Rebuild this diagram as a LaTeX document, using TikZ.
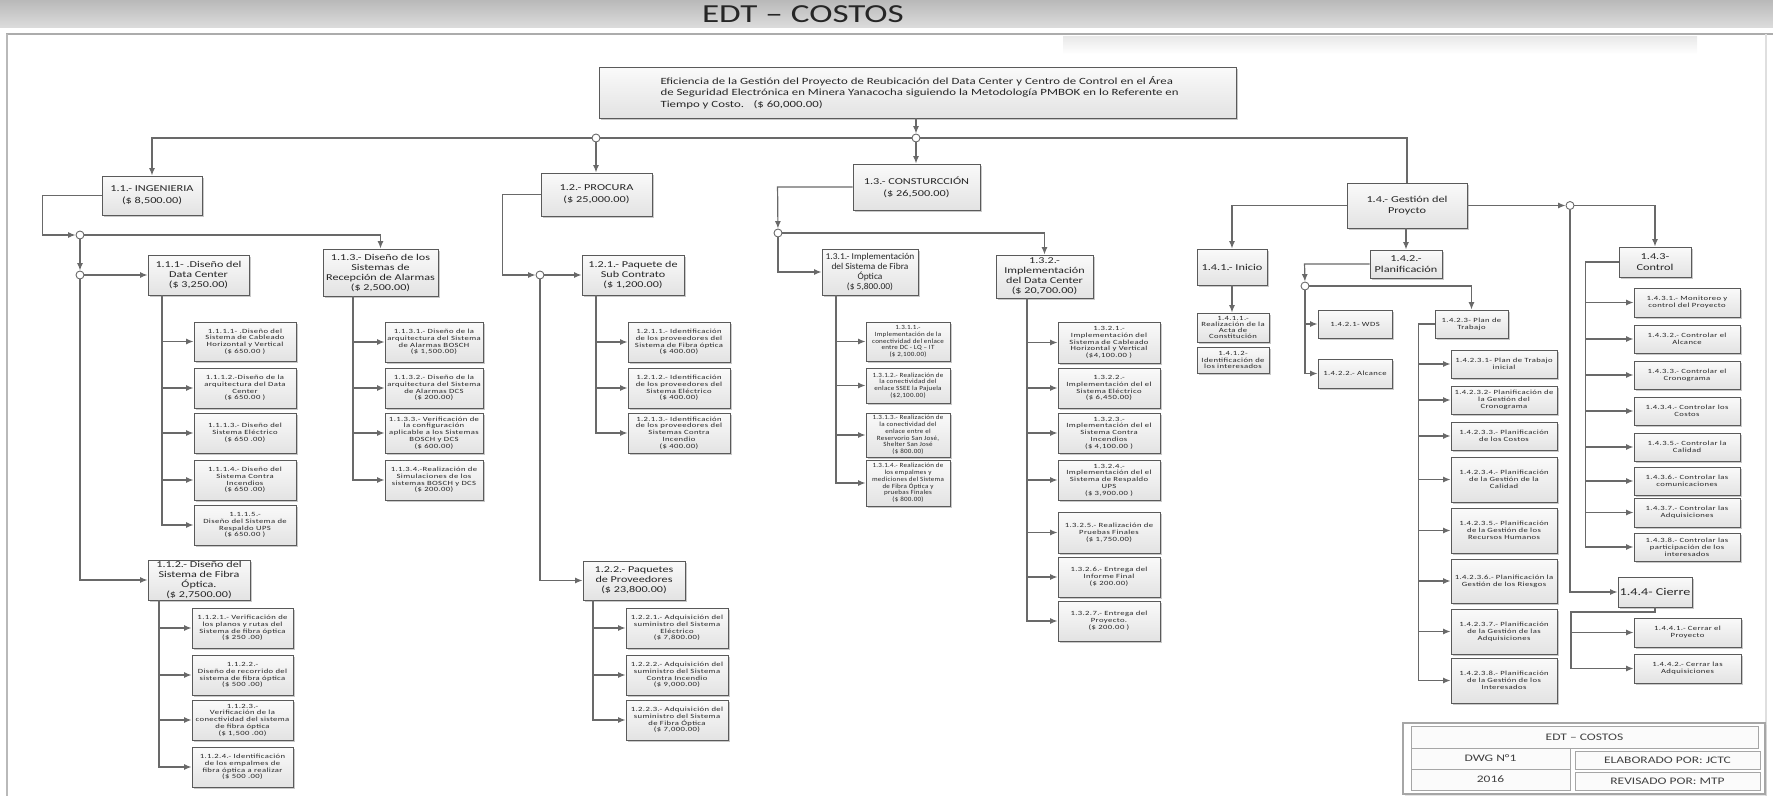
\documentclass[tikz,border=0pt]{standalone}
\usepackage{fontspec}
\setmainfont{Carlito}
\newfontfamily\fwide[FakeStretch=1.35]{Carlito}
\newfontfamily\fmid[FakeStretch=1.05]{Carlito}
\newfontfamily\fsmall[FakeStretch=1.35,LetterSpace=6]{Carlito}
\newfontfamily\fsmalln[FakeStretch=1.1,LetterSpace=4]{Carlito}
\usetikzlibrary{arrows.meta,shadows}

\definecolor{edge}{RGB}{90,90,90}
\definecolor{wirec}{RGB}{105,105,105}

\tikzset{
  box/.style={draw=edge, line width=0.9pt, top color=gray!4, bottom color=gray!22,
    inner sep=1pt, align=center, text=black!85,
    drop shadow={shadow xshift=1.6pt, shadow yshift=-1.6pt, fill=gray!60, opacity=0.7}},
  tRoot/.style={font=\fwide\fontsize{9.5}{11.3}\selectfont},
  tTwo/.style={font=\fwide\fontsize{9.1}{11.7}\selectfont},
  tThree/.style={font=\fwide\fontsize{9}{10}\selectfont},
  tThreeN/.style={font=\fmid\fontsize{9}{10}\selectfont},
  tBig/.style={font=\fwide\fontsize{10.5}{12}\selectfont},
  tSmall/.style={font=\fsmall\fontsize{6.4}{6.8}\selectfont},
  tSmallN/.style={font=\fsmalln\fontsize{6.4}{6.8}\selectfont},
  tTight/.style={font=\fsmall\fontsize{6.4}{6.2}\selectfont},
  wire/.style={draw=wirec, line width=1.2pt},
  arr/.style={wire, -{Latex[length=7.5pt,width=6pt]}},
  junction/.style={circle, draw=wirec, fill=white, line width=0.9pt, minimum size=8pt, inner sep=0pt},
  cell/.style={draw=gray!70, line width=0.7pt, fill=gray!3, text=black!75, inner sep=0pt,
    font=\fwide\fontsize{10}{12}\selectfont},
}

% box given by its corners: name, x1, y1, x2, y2, style, text
\newcommand\wbsbox[7]{%
  \pgfmathsetmacro\wbcx{(#2+#4)/2}%
  \pgfmathsetmacro\wbcy{(#3+#5)/2}%
  \pgfmathsetmacro\wbw{#4-#2}%
  \pgfmathsetmacro\wbh{#5-#3}%
  \node[box,#6,minimum width=\wbw pt,minimum height=\wbh pt] (#1) at (\wbcx,\wbcy) {#7};}

\newcommand\wbscell[6]{%
  \pgfmathsetmacro\wbcx{(#2+#4)/2}%
  \pgfmathsetmacro\wbcy{(#3+#5)/2}%
  \pgfmathsetmacro\wbw{#4-#2}%
  \pgfmathsetmacro\wbh{#5-#3}%
  \node[cell,minimum width=\wbw pt,minimum height=\wbh pt] (#1) at (\wbcx,\wbcy) {#6};}

\begin{document}
\begin{tikzpicture}[x=1pt,y=-1pt]
\useasboundingbox (0,0) rectangle (1773,796);

% ---------- header band and frame ----------
\shade[top color=gray!55, bottom color=gray!28] (0,0) rectangle (1773,27);
\node[font=\fwide\fontsize{26}{30}\selectfont, text=black!85] (title) at (803,14) {EDT – COSTOS};
\shade[top color=gray!18, bottom color=white] (1063,36) rectangle (1697,54);
\draw[gray!65, line width=2pt] (6,34) -- (1773,34);
\draw[gray!55, line width=2pt] (7,34) -- (7,796);
\draw[gray!25, line width=1.2pt] (1766,34) -- (1766,796);

% ---------- root ----------
\wbsbox{root}{599}{67}{1236}{118}{}{}
\node[anchor=west, align=left, tRoot, text=black!85] (rootlabel) at (657,92.5)
  {Eficiencia de la Gestión del Proyecto de Reubicación del Data Center y Centro de Control en el Área\\
   de Seguridad Electrónica en Minera Yanacocha siguiendo la Metodología PMBOK en lo Referente en\\
   Tiempo y Costo.\quad(\$ 60,000.00)};

% ---------- junctions ----------
\node[junction] (c2) at (596,138) {};
\node[junction] (c3) at (916,138) {};
\node[junction] (cA) at (80,235) {};
\node[junction] (cB) at (80,275) {};
\node[junction] (cC) at (540,275) {};
\node[junction] (cD) at (778,233) {};
\node[junction] (cE) at (1570,205.5) {};
\node[junction] (cF) at (1305,286) {};

% ---------- level 2 ----------
\wbsbox{n11}{102}{176}{202}{215}{tTwo}{1.1.- INGENIERIA\\(\$ 8,500.00)}
\wbsbox{n12}{541}{173}{652}{216}{tTwo}{1.2.- PROCURA\\(\$ 25,000.00)}
\wbsbox{n13}{853}{164}{980}{210}{tTwo}{1.3.- CONSTURCCIÓN\\(\$ 26,500.00)}
\wbsbox{n14}{1347}{183}{1467}{228}{tTwo}{1.4.- Gestión del\\Proycto}

% ---------- level 3 ----------
\wbsbox{n111}{148}{255}{249}{295}{tThree}{1.1.1- .Diseño del\\Data Center\\(\$ 3,250.00)}
\wbsbox{n112}{148}{560}{250}{600}{tThree}{1.1.2.- Diseño del\\Sistema de Fibra\\Óptica.\\(\$ 2,7500.00)}
\wbsbox{n113}{323}{249}{438}{296}{tThree}{1.1.3.- Diseño de los\\Sistemas de\\Recepción de Alarmas\\(\$ 2,500.00)}
\wbsbox{n121}{582}{255}{684}{295}{tThree}{1.2.1.- Paquete de\\Sub Contrato\\(\$ 1,200.00)}
\wbsbox{n122}{583}{561}{685}{600}{tThree}{1.2.2.- Paquetes\\de Proveedores\\(\$ 23,800.00)}
\wbsbox{n131}{822}{249}{918}{295}{tThreeN}{1.3.1.- Implementación\\del Sistema de Fibra\\Óptica\\(\$ 5,800.00)}
\wbsbox{n132}{996}{255}{1093}{298}{tThree}{1.3.2.-\\Implementación\\del Data Center\\(\$ 20,700.00)}
\wbsbox{n141}{1197}{249}{1267}{285}{tTwo}{1.4.1.- Inicio}
\wbsbox{n142}{1370}{250}{1442}{278}{tTwo}{1.4.2.-\\Planificación}
\wbsbox{n143}{1619}{247}{1691}{277}{tTwo}{1.4.3-\\Control}
\wbsbox{n144}{1618}{577}{1692}{607}{tBig}{1.4.4- Cierre}

% ---------- 1.1.1 work packages ----------
\wbsbox{n1111}{194}{322}{296}{361}{tSmall}{1.1.1.1- .Diseño del\\Sistema de  Cableado\\Horizontal y Vertical\\(\$ 650.00 )}
\wbsbox{n1112}{194}{368}{296}{408}{tSmall}{1.1.1.2.-Diseño de la\\arquitectura del Data\\Center\\(\$ 650.00 )}
\wbsbox{n1113}{194}{413}{296}{453}{tSmall}{1.1.1.3.- Diseño del\\Sistema Eléctrico\\(\$ 650 .00)}
\wbsbox{n1114}{194}{460}{296}{500}{tSmall}{1.1.1.4.- Diseño del\\Sistema Contra\\Incendios\\(\$ 650 .00)}
\wbsbox{n1115}{194}{505}{296}{545}{tSmall}{1.1.1.5.-\\Diseño del Sistema de\\Respaldo UPS\\(\$ 650.00 )}

% ---------- 1.1.2 work packages ----------
\wbsbox{n1121}{192}{608}{293}{648}{tSmall}{1.1.2.1.- Verificación de\\los planos  y rutas del\\Sistema de fibra óptica\\(\$ 250 .00)}
\wbsbox{n1122}{192}{655}{293}{695}{tSmall}{1.1.2.2.-\\Diseño de  recorrido del\\sistema de fibra óptica\\(\$ 500 .00)}
\wbsbox{n1123}{192}{700}{293}{740}{tSmall}{1.1.2.3.-\\Verificación de la\\conectividad del sistema\\de fibra óptica\\(\$ 1,500 .00)}
\wbsbox{n1124}{192}{747}{293}{787}{tSmall}{1.1.2.4.- Identificación\\de los empalmes de\\fibra óptica a realizar\\(\$ 500 .00)}

% ---------- 1.1.3 work packages ----------
\wbsbox{n1131}{385}{322}{483}{362}{tSmall}{1.1.3.1.- Diseño de la\\arquitectura del Sistema\\de Alarmas BOSCH\\(\$ 1,500.00)}
\wbsbox{n1132}{385}{368}{483}{408}{tSmall}{1.1.3.2.- Diseño de la\\arquitectura del  Sistema\\de Alarmas DCS\\(\$ 200.00)}
\wbsbox{n1133}{385}{413}{483}{453}{tSmall}{1.1.3.3.- Verificación de\\la configuración\\aplicable a  los Sistemas\\BOSCH y DCS\\(\$ 600.00)}
\wbsbox{n1134}{385}{460}{483}{500}{tSmall}{1.1.3.4.-Realización de\\Simulaciones de  los\\sistemas  BOSCH y DCS\\(\$ 200.00)}

% ---------- 1.2.1 work packages ----------
\wbsbox{n1211}{628}{322}{730}{362}{tSmall}{1.2.1.1.- Identificación\\de los proveedores del\\Sistema de Fibra óptica\\(\$ 400.00)}
\wbsbox{n1212}{628}{368}{730}{408}{tSmall}{1.2.1.2.- Identificación\\de  los proveedores del\\Sistema Eléctrico\\(\$ 400.00)}
\wbsbox{n1213}{628}{413}{730}{453}{tSmall}{1.2.1.3.- Identificación\\de  los proveedores del\\Sistemas Contra\\Incendio\\(\$ 400.00)}

% ---------- 1.2.2 work packages ----------
\wbsbox{n1221}{626}{608}{728}{648}{tSmall}{1.2.2.1.- Adquisición del\\suministro del Sistema\\Eléctrico\\(\$ 7,800.00)}
\wbsbox{n1222}{626}{655}{728}{695}{tSmall}{1.2.2.2.- Adquisición del\\suministro del Sistema\\Contra Incendio\\(\$ 9,000.00)}
\wbsbox{n1223}{626}{700}{728}{740}{tSmall}{1.2.2.3.- Adquisición del\\suministro del Sistema\\de Fibra Óptica\\(\$ 7,000.00)}

% ---------- 1.3.1 work packages ----------
\wbsbox{n1311}{866}{322}{950}{361}{tSmallN}{1.3.1.1.-\\Implementación de la\\conectividad del enlace\\entre DC - LQ – IT\\(\$ 2,100.00)}
\wbsbox{n1312}{866}{368}{950}{403}{tSmallN}{1.3.1.2.- Realización de\\la  conectividad del\\enlace  SSEE la Pajuela\\(\$2,100.00)}
\wbsbox{n1313}{866}{413}{950}{457}{tSmallN}{1.3.1.3.- Realización de\\la conectividad del\\enlace entre el\\Reservorio San José,\\Shelter San José\\(\$ 800.00)}
\wbsbox{n1314}{866}{460}{950}{506}{tSmallN}{1.3.1.4.- Realización de\\los empalmes y\\mediciones del Sistema\\de Fibra Óptica  y\\pruebas Finales\\(\$ 800.00)}

% ---------- 1.3.2 work packages ----------
\wbsbox{n1321}{1058}{322}{1160}{363}{tSmall}{1.3.2.1.-\\Implementación del\\Sistema de Cableado\\Horizontal y Vertical\\(\$4,100.00 )}
\wbsbox{n1322}{1058}{368}{1160}{408}{tSmall}{1.3.2.2.-\\Implementación del el\\Sistema Eléctrico\\(\$ 6,450.00)}
\wbsbox{n1323}{1058}{413}{1160}{453}{tSmall}{1.3.2.3.-\\Implementación del el\\Sistema Contra\\Incendios\\(\$ 4,100.00 )}
\wbsbox{n1324}{1058}{460}{1160}{500}{tSmall}{1.3.2.4.-\\Implementación del el\\Sistema de Respaldo\\UPS\\(\$ 3,900.00 )}
\wbsbox{n1325}{1058}{512}{1160}{553}{tSmall}{1.3.2.5.- Realización de\\Pruebas Finales\\(\$ 1,750.00)}
\wbsbox{n1326}{1058}{557}{1160}{597}{tSmall}{1.3.2.6.- Entrega del\\Informe Final\\(\$ 200.00)}
\wbsbox{n1327}{1058}{601}{1160}{641}{tSmall}{1.3.2.7.- Entrega del\\Proyecto.\\(\$ 200.00 )}

% ---------- 1.4 packages ----------
\wbsbox{n1411}{1197}{313}{1269}{342}{tTight}{1.4.1.1.-\\Realización de la\\Acta de\\Constitución}
\wbsbox{n1412}{1197}{347}{1269}{373}{tSmall}{1.4.1.2-\\Identificación de\\los interesados}
\wbsbox{n1421}{1318}{310}{1392}{338}{tSmall}{1.4.2.1- WDS}
\wbsbox{n1422}{1318}{359}{1392}{388}{tSmall}{1.4.2.2.- Alcance}
\wbsbox{n1423}{1435}{310}{1508}{338}{tSmall}{1.4.2.3- Plan de\\Trabajo}

\wbsbox{n14231}{1451}{350}{1557}{378}{tSmall}{1.4.2.3.1- Plan de Trabajo\\inicial}
\wbsbox{n14232}{1451}{386}{1557}{414}{tSmall}{1.4.2.3.2- Planificación de\\la Gestión del\\Cronograma}
\wbsbox{n14233}{1451}{422}{1557}{450}{tSmall}{1.4.2.3.3.- Planificación\\de los Costos}
\wbsbox{n14234}{1451}{457}{1557}{502}{tSmall}{1.4.2.3.4.- Planificación\\de la Gestión de la\\Calidad}
\wbsbox{n14235}{1451}{508}{1557}{553}{tSmall}{1.4.2.3.5.- Planificación\\de la Gestión de los\\Recursos Humanos}
\wbsbox{n14236}{1451}{559}{1557}{603}{tSmall}{1.4.2.3.6.- Planificación la\\Gestión de los Riesgos}
\wbsbox{n14237}{1451}{609}{1557}{654}{tSmall}{1.4.2.3.7.- Planificación\\de la Gestión de las\\Adquisiciones}
\wbsbox{n14238}{1451}{658}{1557}{703}{tSmall}{1.4.2.3.8.- Planificación\\de la Gestión de los\\Interesados}

\wbsbox{n1431}{1634}{288}{1740}{317}{tSmall}{1.4.3.1.- Monitoreo y\\control del Proyecto}
\wbsbox{n1432}{1634}{325}{1740}{353}{tSmall}{1.4.3.2.- Controlar el\\Alcance}
\wbsbox{n1433}{1634}{361}{1740}{389}{tSmall}{1.4.3.3.- Controlar el\\Cronograma}
\wbsbox{n1434}{1634}{397}{1740}{425}{tSmall}{1.4.3.4.- Controlar los\\Costos}
\wbsbox{n1435}{1634}{433}{1740}{461}{tSmall}{1.4.3.5.- Controlar la\\Calidad}
\wbsbox{n1436}{1634}{467}{1740}{495}{tSmall}{1.4.3.6.- Controlar las\\comunicaciones}
\wbsbox{n1437}{1634}{498}{1740}{527}{tSmall}{1.4.3.7.- Controlar las\\Adquisiciones}
\wbsbox{n1438}{1634}{533}{1740}{561}{tSmall}{1.4.3.8.- Controlar las\\participación de los\\interesados}

\wbsbox{n1441}{1634}{618}{1741}{647}{tSmall}{1.4.4.1.- Cerrar el\\Proyecto}
\wbsbox{n1442}{1634}{654}{1741}{683}{tSmall}{1.4.4.2.- Cerrar las\\Adquisiciones}

% ---------- trunk positions ----------
\coordinate (t111) at (162,0);
\coordinate (t112) at (159,0);
\coordinate (t113) at (353,0);
\coordinate (t121) at (596,0);
\coordinate (t122) at (593,0);
\coordinate (t131) at (836,0);
\coordinate (t132) at (1027,0);
\coordinate (t1423) at (1419,0);
\coordinate (t143) at (1586,0);
\coordinate (t144) at (1571,612);

% ---------- top-level connectors ----------
\draw[arr] (root.south -| c3) -- (c3);
\draw[wire] (c2) -- (c3);
\draw[arr] (c2) -| (n11);
\draw[arr] (c2) -- (n12.north -| c2);
\draw[arr] (c3) -- (n13.north -| c3);
\draw[wire] (c3) -| (n14);

% ---------- 1.1 ----------
\draw[arr] (n11.west) -- ++(-59,0) |- (cA);
\draw[arr] (cA) -| (n113);
\draw[arr] (cA) -- (cB);
\draw[arr] (cB) -- (n111);
\draw[arr] (cB) |- (n112);

\draw[arr] (n111.south -| t111) |- (n1115);
\foreach \k in {n1111,n1112,n1113,n1114} \draw[arr] (\k.west -| t111) -- (\k);
\draw[arr] (n112.south -| t112) |- (n1124);
\foreach \k in {n1121,n1122,n1123} \draw[arr] (\k.west -| t112) -- (\k);
\draw[arr] (n113.south -| t113) |- (n1134);
\foreach \k in {n1131,n1132,n1133} \draw[arr] (\k.west -| t113) -- (\k);

% ---------- 1.2 ----------
\draw[arr] (n12.west) -- ++(-38,0) |- (cC);
\draw[arr] (cC) -- (n121);
\draw[arr] (cC) |- (n122);
\draw[arr] (n121.south -| t121) |- (n1213);
\foreach \k in {n1211,n1212} \draw[arr] (\k.west -| t121) -- (\k);
\draw[arr] (n122.south -| t122) |- (n1223);
\foreach \k in {n1221,n1222} \draw[arr] (\k.west -| t122) -- (\k);

% ---------- 1.3 ----------
\draw[arr] (n13.west) -- ++(-75,0) -- (cD);
\draw[arr] (cD) -| (n132);
\draw[arr] (cD) |- (n131);
\draw[arr] (n131.south -| t131) |- (n1314);
\foreach \k in {n1311,n1312,n1313} \draw[arr] (\k.west -| t131) -- (\k);
\draw[arr] (n132.south -| t132) |- (n1327);
\foreach \k in {n1321,n1322,n1323,n1324,n1325,n1326} \draw[arr] (\k.west -| t132) -- (\k);

% ---------- 1.4 ----------
\draw[arr] (n14.west) -| (n141);
\draw[arr] (n142.north |- n14.south) -- (n142);
\draw[arr] (n14.east) -- (cE);
\draw[arr] (cE) -| (n143);
\draw[arr] (cE) |- (n144);
\draw[arr] (n141.south) -- (n141.south |- n1411.north);
\draw[arr] (n142.west) -- ++(-65,0) -- (cF);
\draw[arr] (cF) -| (n1423);
\draw[arr] (cF) |- (n1422);
\draw[arr] (n1421.west -| cF) -- (n1421);
\draw[arr] (n1423.west) -- ++(-16,0) |- (n14238);
\foreach \k in {n14231,n14232,n14233,n14234,n14235,n14236,n14237} \draw[arr] (\k.west -| t1423) -- (\k);
\draw[arr] (n143.west) -- ++(-33,0) |- (n1438);
\foreach \k in {n1431,n1432,n1433,n1434,n1435,n1436,n1437} \draw[arr] (\k.west -| t143) -- (\k);
\draw[arr] (n144.south) |- (t144) |- (n1442);
\draw[arr] (n1441.west -| t144) -- (n1441);

% ---------- title block ----------
\node[draw=gray!70, line width=1.3pt, fill=white, minimum width=362pt, minimum height=71pt,
      drop shadow={shadow xshift=1.5pt, shadow yshift=-1.5pt, fill=gray!40}] (tbframe) at (1584,758.5) {};
\wbscell{tbtitle}{1411}{726}{1758}{748}{EDT – COSTOS}
\wbscell{tbdwg}{1411}{748}{1570}{769}{DWG N°1}
\wbscell{tbyear}{1411}{769}{1570}{790}{2016}
\wbscell{tbauthor}{1575}{751}{1760}{769}{ELABORADO POR: JCTC}
\wbscell{tbcheck}{1575}{772}{1760}{790}{REVISADO POR: MTP}
\end{tikzpicture}
\end{document}
